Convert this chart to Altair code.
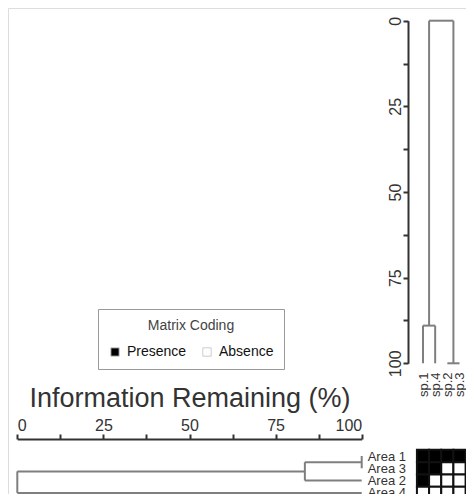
import json
import altair as alt
import pandas as pd

# ---------------- data ----------------
species = ["sp.1", "sp.4", "sp.2", "sp.3"]          # display order (columns)
areas = ["Area 1", "Area 3", "Area 2", "Area 4"]     # display order (rows)
presence = [                                         # rows = areas, cols = species
    [1, 1, 1, 1],
    [1, 1, 0, 0],
    [1, 0, 0, 0],
    [0, 0, 0, 0],
]
# linkage lists: [member a, member b, information remaining (%) at merge]
# leaves are 0..n-1 (display order), merge k gets id n+k
species_links = [[2, 3, 100.0], [0, 1, 89.0], [5, 4, 0.0]]
area_links = [[0, 1, 100.0], [4, 2, 83.5], [5, 3, 0.0]]
level_ticks = [0, 12.5, 25, 37.5, 50, 62.5, 75, 87.5, 100]


def dendro_segments(n, links):
    pos = {i: float(i) for i in range(n)}
    hgt = {i: 100.0 for i in range(n)}
    segs = []
    for k, (a, b, h) in enumerate(links):
        for c in (a, b):
            segs.append(dict(p1=pos[c], p2=pos[c], l1=hgt[c], l2=h))
        segs.append(dict(p1=pos[a], p2=pos[b], l1=h, l2=h))
        pos[n + k] = (pos[a] + pos[b]) / 2
        hgt[n + k] = h
    return pd.DataFrame(segs)


sp_segs = dendro_segments(len(species), species_links)
ar_segs = dendro_segments(len(areas), area_links)

cells = []
for r, area in enumerate(areas):
    for c, sp in enumerate(species):
        cells.append(dict(area=area, sp=sp, c0=c - 0.5, c1=c + 0.5,
                          r0=r - 0.5, r1=r + 0.5,
                          state="Presence" if presence[r][c] else "Absence"))
cells = pd.DataFrame(cells)

# ---------------- scales ----------------
W, H = 458, 486
sp_scale = alt.Scale(domain=[0, 3], range=[415, 451.5], nice=False, zero=False)
row_scale = alt.Scale(domain=[0, 3], range=[448, 484.9], nice=False, zero=False)
lvl_v = alt.Scale(domain=[0, 100], range=[12.7, 355.3], nice=False, zero=False)
lvl_h = alt.Scale(domain=[0, 100], range=[9.3, 353.7], nice=False, zero=False)

AX = "#333333"
LINE = "#7f7f7f"
lvl_label = "datum.value % 25 == 0 ? format(datum.value, 'd') : ''"

# species dendrogram (top right)
sp_layer = alt.Chart(sp_segs).mark_rule(color=LINE, strokeWidth=2).encode(
    x=alt.X("p1:Q", scale=sp_scale,
            axis=alt.Axis(orient="bottom", offset=364 - H, values=[0, 1, 2, 3],
                          labelExpr=f"{json.dumps(species)}[datum.value]",
                          labelOverlap=False,
                          domain=False, ticks=False, grid=False, labelPadding=0,
                          labelAngle=270, labelAlign="right", labelBaseline="middle",
                          labelFontSize=13, labelColor=AX, title=None)),
    x2="p2:Q",
    y=alt.Y("l1:Q", scale=lvl_v,
            axis=alt.Axis(orient="left", offset=-400, values=level_ticks,
                          labelExpr=lvl_label, labelOverlap=False, grid=False,
                          tickSize=5, tickWidth=2, tickColor=AX,
                          domainColor=AX, domainWidth=2, labelPadding=3,
                          labelAngle=270, labelAlign="center",
                          labelBaseline="alphabetic", labelFontSize=16,
                          labelColor=AX, title=None)),
    y2="l2:Q",
)

# area dendrogram (bottom left)
ar_layer = alt.Chart(ar_segs).mark_rule(color=LINE, strokeWidth=2).encode(
    x=alt.X("l1:Q", scale=lvl_h,
            axis=alt.Axis(orient="top", offset=-431, values=level_ticks,
                          labelExpr=lvl_label, labelOverlap=False, grid=False,
                          tickSize=5, tickWidth=2, tickColor=AX,
                          domainColor=AX, domainWidth=2, labelPadding=4,
                          labelBaseline="alphabetic", labelFontSize=16,
                          labelColor=AX, title="Information Remaining (%)",
                          titleFontSize=27, titleFontWeight="normal",
                          titleColor=AX, titleY=-33, titleBaseline="alphabetic")),
    x2="l2:Q",
    y=alt.Y("p1:Q", scale=row_scale,
            axis=alt.Axis(orient="right", offset=353.7 - W, values=[0, 1, 2, 3],
                          labelExpr=f"{json.dumps(areas)}[datum.value]",
                          labelOverlap=False,
                          domain=False, ticks=False, grid=False, labelPadding=5.5,
                          labelAlign="left", labelBaseline="middle",
                          labelFontSize=13, labelColor=AX, title=None)),
    y2="p2:Q",
)

# presence / absence matrix (bottom right)
mx_layer = alt.Chart(cells).mark_rect(stroke="#111111", strokeWidth=2).encode(
    x=alt.X("c0:Q", scale=sp_scale, axis=None),
    x2="c1:Q",
    y=alt.Y("r0:Q", scale=row_scale, axis=None),
    y2="r1:Q",
    color=alt.Color("state:N",
                    scale=alt.Scale(domain=["Presence", "Absence"], range=["black", "white"]),
                    legend=alt.Legend(title="Matrix Coding", orient="none",
                                      legendX=90, legendY=301, direction="horizontal",
                                      titleAnchor="middle", titleFontSize=14,
                                      titleFontWeight="normal", titleColor="#444444",
                                      titlePadding=12, labelFontSize=14,
                                      labelColor="#111111", labelOffset=5,
                                      symbolType="square", symbolSize=70,
                                      symbolStrokeColor="#cccccc", symbolStrokeWidth=1,
                                      columnPadding=13, padding=10,
                                      strokeColor="#999999", cornerRadius=0)),
)

chart = alt.layer(sp_layer, ar_layer, mx_layer).resolve_scale(
    x="independent", y="independent"
).properties(
    width=W, height=H, padding=0,
    autosize=alt.AutoSizeParams(type="none"),
    background="white",
).configure_view(stroke=None).configure(font="Liberation Sans")

chart.save("out.html", embed_options={"renderer": "svg", "actions": False})
